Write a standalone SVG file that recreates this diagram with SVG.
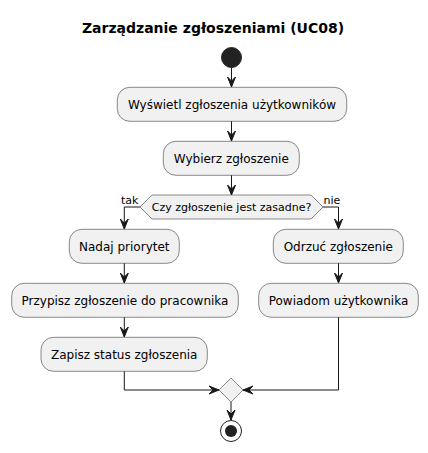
<svg xmlns="http://www.w3.org/2000/svg" width="428" height="453" viewBox="0 0 428 453">
<defs>
<style>
.box{fill:#F1F1F1;stroke:#181818;stroke-width:0.5}
.t{font-family:"DejaVu Sans",sans-serif;font-size:12px;fill:#000;text-anchor:middle}
.s{font-family:"DejaVu Sans",sans-serif;font-size:11px;fill:#000}
.ln{fill:none;stroke:#181818;stroke-width:1}
.ah{fill:#181818;stroke:#181818;stroke-width:1}
</style>
</defs>
<rect width="428" height="453" fill="#FFFFFF"/>
<text x="213" y="33" font-family="'DejaVu Sans',sans-serif" font-size="14" font-weight="bold" text-anchor="middle">Zarządzanie zgłoszeniami (UC08)</text>
<g id="start"><circle cx="231.5" cy="57.5" r="10" fill="#222222" stroke="#222222"/></g>
<g id="n1"><rect class="box" x="117.3" y="87.3" width="229.4" height="34" rx="12.5"/><text class="t" x="232" y="109">Wyświetl zgłoszenia użytkowników</text></g>
<g id="n2"><rect class="box" x="163.3" y="141.3" width="136" height="34" rx="12.5"/><text class="t" x="231.3" y="163">Wybierz zgłoszenie</text></g>
<g id="d1"><polygon class="box" points="152,195 311,195 323,207 311,219 152,219 140,207"/><text class="s" x="231.5" y="211" text-anchor="middle">Czy zgłoszenie jest zasadne?</text></g>
<g id="n3"><rect class="box" x="69.3" y="229.3" width="110" height="34" rx="12.5"/><text class="t" x="124.3" y="251">Nadaj priorytet</text></g>
<g id="n4"><rect class="box" x="11.7" y="283.3" width="226.6" height="34" rx="12.5"/><text class="t" x="125" y="305">Przypisz zgłoszenie do pracownika</text></g>
<g id="n5"><rect class="box" x="41" y="337.3" width="166.3" height="34" rx="12.5"/><text class="t" x="124.2" y="359">Zapisz status zgłoszenia</text></g>
<g id="n6"><rect class="box" x="273.3" y="229.3" width="130" height="34" rx="12.5"/><text class="t" x="338.3" y="251">Odrzuć zgłoszenie</text></g>
<g id="n7"><rect class="box" x="258.7" y="283.3" width="159.6" height="34" rx="12.5"/><text class="t" x="338.5" y="305">Powiadom użytkownika</text></g>
<g id="merge"><polygon class="box" points="231,378 243,390 231,402 219,390"/></g>
<g id="stop"><circle cx="231" cy="431" r="10.5" fill="none" stroke="#222222" stroke-width="1"/><circle cx="231" cy="431" r="6" fill="#222222"/></g>
<g id="connectors">
<line class="ln" x1="231.5" y1="67.5" x2="231.5" y2="87"/>
<polygon class="ah" points="227.5,77 231.5,87 235.5,77 231.5,81"/>
<line class="ln" x1="231.5" y1="121.3" x2="231.5" y2="141"/>
<polygon class="ah" points="227.5,131 231.5,141 235.5,131 231.5,135"/>
<line class="ln" x1="231.5" y1="175.3" x2="231.5" y2="195"/>
<polygon class="ah" points="227.5,185 231.5,195 235.5,185 231.5,189"/>
<polyline class="ln" points="140,207 124.3,207 124.3,229"/>
<polygon class="ah" points="120.3,219 124.3,229 128.3,219 124.3,223"/>
<text class="s" x="121" y="204">tak</text>
<polyline class="ln" points="323,207 338.5,207 338.5,229"/>
<polygon class="ah" points="334.5,219 338.5,229 342.5,219 338.5,223"/>
<text class="s" x="323.5" y="204">nie</text>
<line class="ln" x1="124.3" y1="263.3" x2="124.3" y2="283"/>
<polygon class="ah" points="120.3,273 124.3,283 128.3,273 124.3,277"/>
<line class="ln" x1="124.3" y1="317.3" x2="124.3" y2="337"/>
<polygon class="ah" points="120.3,327 124.3,337 128.3,327 124.3,331"/>
<line class="ln" x1="338.5" y1="263.3" x2="338.5" y2="283"/>
<polygon class="ah" points="334.5,273 338.5,283 342.5,273 338.5,277"/>
<polyline class="ln" points="124.3,371.3 124.3,390 219,390"/>
<polygon class="ah" points="209,386 219,390 209,394 213,390"/>
<polyline class="ln" points="338.5,317.3 338.5,390 243,390"/>
<polygon class="ah" points="253,386 243,390 253,394 249,390"/>
<line class="ln" x1="231" y1="402" x2="231" y2="420"/>
<polygon class="ah" points="227,410 231,420 235,410 231,414"/>
</g>
</svg>
